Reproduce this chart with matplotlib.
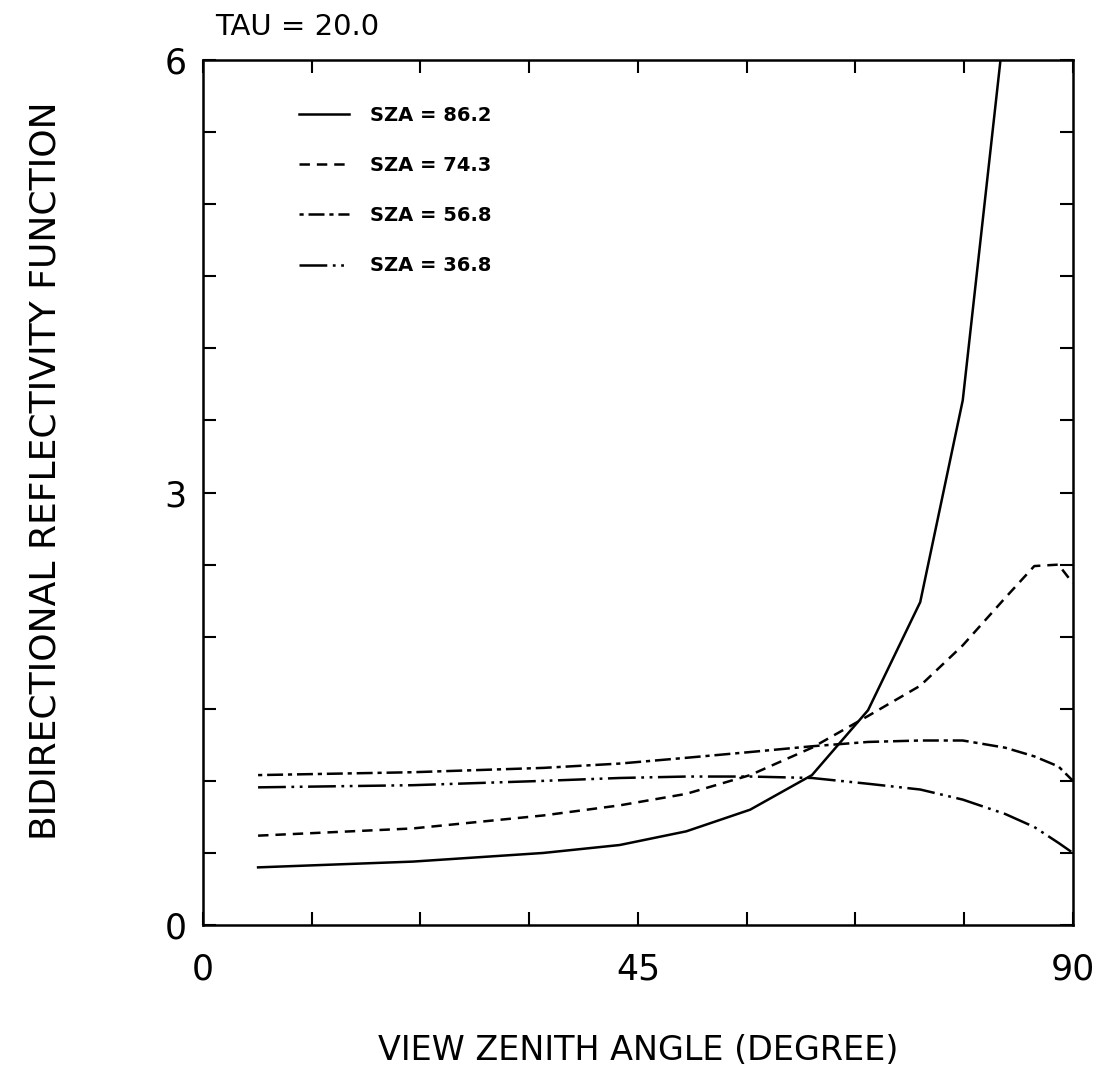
import matplotlib
matplotlib.use('Agg')
import matplotlib.pyplot as plt
from matplotlib.ticker import MultipleLocator, FuncFormatter

# view zenith angles (deg) of the computed points
vza = [5.7, 21.7, 35.2, 43.1, 50.0, 56.6, 63.0, 68.8, 74.2, 78.6, 83.0, 86.0, 88.5, 90.0]

# bidirectional reflectivity function for each solar zenith angle
brf_862 = [0.40, 0.44, 0.50, 0.555, 0.65, 0.80, 1.04, 1.49, 2.24, 3.64, 6.3, 9.0, 11.0, 12.0]
brf_743 = [0.62, 0.67, 0.76, 0.83, 0.91, 1.04, 1.23, 1.45, 1.66, 1.94, 2.27, 2.49, 2.50, 2.37]
brf_568 = [1.04, 1.06, 1.09, 1.12, 1.16, 1.20, 1.24, 1.27, 1.28, 1.28, 1.23, 1.17, 1.10, 1.00]
brf_368 = [0.955, 0.97, 1.00, 1.02, 1.03, 1.03, 1.02, 0.98, 0.94, 0.87, 0.77, 0.68, 0.57, 0.50]

labels = ['SZA = 86.2', 'SZA = 74.3', 'SZA = 56.8', 'SZA = 36.8']
tau_text = 'TAU = 20.0'

plt.rcParams['font.family'] = ['DejaVu Sans']
plt.rcParams['lines.scale_dashes'] = False

fig = plt.figure(figsize=(11.05, 10.74), dpi=100)
ax = fig.add_axes([0.1837, 0.1387, 0.7873, 0.8054])

lw = 1.8
ax.plot(vza, brf_862, color='black', lw=lw, linestyle='-', label=labels[0])
ax.plot(vza, brf_743, color='black', lw=lw, linestyle=(0, (7.5, 5)), label=labels[1])
ax.plot(vza, brf_568, color='black', lw=lw, linestyle=(0, (3, 3.5, 11.5, 3.5)), label=labels[2])
ax.plot(vza, brf_368, color='black', lw=lw, linestyle=(0, (20, 4, 2, 4, 2, 4)), label=labels[3])

ax.set_xlim(0, 90)
ax.set_ylim(0, 6)

# ticks everywhere, inward, labels only at a few values
ax.xaxis.set_major_locator(MultipleLocator(11.25))
ax.yaxis.set_major_locator(MultipleLocator(0.5))
ax.xaxis.set_major_formatter(FuncFormatter(lambda v, p: '%d' % round(v) if abs(v % 45) < 1e-6 else ''))
ax.yaxis.set_major_formatter(FuncFormatter(lambda v, p: '%d' % round(v) if abs(v % 3) < 1e-6 else ''))
ax.tick_params(direction='in', length=9.5, width=1.5, top=True, right=True, labelsize=25)
ax.tick_params(axis='x', pad=20)
ax.tick_params(axis='y', pad=12)
for s in ax.spines.values():
    s.set_linewidth(1.8)

ax.set_xlabel('VIEW ZENITH ANGLE (DEGREE)', fontsize=24, labelpad=34)
ax.set_ylabel('BIDIRECTIONAL REFLECTIVITY FUNCTION', fontsize=26)
ax.yaxis.set_label_coords(-0.162, 0.525)
ax.text(0.014, 1.022, tau_text, transform=ax.transAxes, fontsize=21, ha='left', va='bottom')

leg = ax.legend(loc='upper left', bbox_to_anchor=(0.09, 0.967), frameon=False,
                handlelength=2.6, handletextpad=1.05, labelspacing=1.6,
                prop={'size': 14, 'weight': 'bold'})

fig.savefig('out.png', dpi=100)
